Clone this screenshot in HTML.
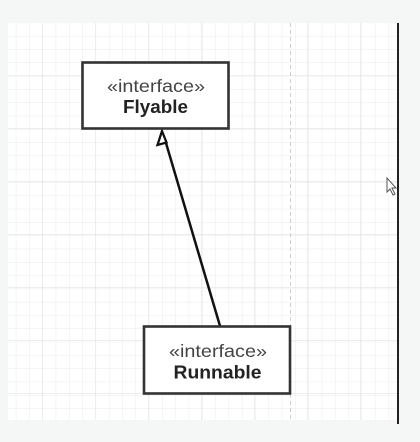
<!DOCTYPE html>
<html><head><meta charset="utf-8"><style>
html,body{margin:0;padding:0;background:#f5f6f6;}
svg{display:block}
text{font-family:"Liberation Sans",sans-serif;text-anchor:middle}
</style></head><body>
<svg width="420" height="442" viewBox="0 0 420 442" xmlns="http://www.w3.org/2000/svg">
<defs>
<pattern id="minor" x="3" y="-3.5" width="13.3" height="13.3" patternUnits="userSpaceOnUse">
<path d="M13.3 0V13.3M0 13.3H13.3" stroke="#ebebeb" stroke-width="1" fill="none"/>
</pattern>
<pattern id="major" x="-10" y="-30" width="53" height="53" patternUnits="userSpaceOnUse">
<path d="M53 0V53M0 53H53" stroke="#dedede" stroke-width="1" fill="none"/>
</pattern>
</defs>
<rect x="0" y="0" width="420" height="442" fill="#f5f6f6"/>
<rect x="8" y="23" width="389" height="397" fill="#ffffff"/>
<rect x="8" y="23" width="389" height="397" fill="url(#minor)"/>
<rect x="8" y="23" width="389" height="397" fill="url(#major)"/>
<line x1="290.5" y1="23" x2="290.5" y2="420" stroke="#cfcfcf" stroke-width="1" stroke-dasharray="4,3"/>
<line x1="398" y1="23" x2="398" y2="424" stroke="#222" stroke-width="2"/>
<path d="M387 178 L387 192 L390 189 L393 195 L395 194 L392 188 L396 188 Z" fill="#fff" stroke="#555" stroke-width="1"/>
<line x1="220" y1="326" x2="166" y2="143" stroke="#111" stroke-width="2.5"/>
<path d="M162 131 L157.5 145 L166.5 142.5 Z" fill="#fff" stroke="#111" stroke-width="2.3"/>
<rect x="82.5" y="62.5" width="146" height="66" fill="#fff" stroke="#333" stroke-width="2.6"/>
<text x="156" y="92" font-size="17.5" fill="#444" textLength="98" lengthAdjust="spacingAndGlyphs">«interface»</text>
<text x="155.5" y="113" font-size="18.5" font-weight="bold" fill="#222" textLength="65" lengthAdjust="spacingAndGlyphs">Flyable</text>
<rect x="144" y="326.5" width="146" height="67" fill="#fff" stroke="#333" stroke-width="2.6"/>
<text x="218" y="357" font-size="17.5" fill="#444" textLength="98" lengthAdjust="spacingAndGlyphs">«interface»</text>
<text x="217.5" y="378.5" font-size="18.5" font-weight="bold" fill="#222" textLength="88" lengthAdjust="spacingAndGlyphs">Runnable</text>
</svg>
</body></html>
